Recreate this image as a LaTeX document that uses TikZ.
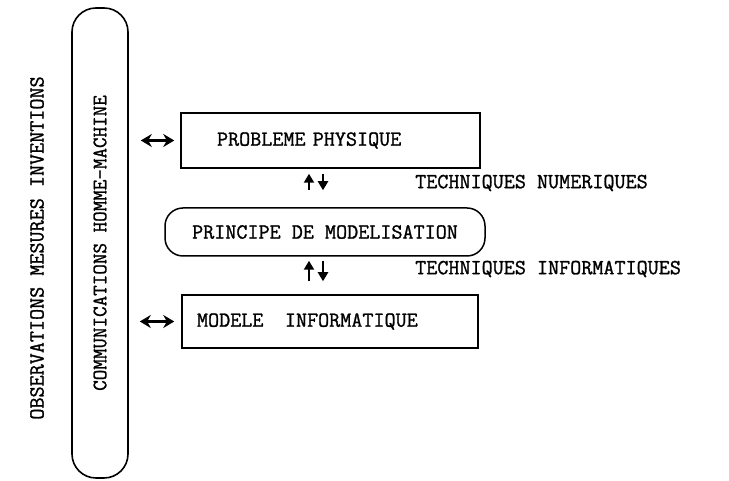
\documentclass[tikz,border=0pt]{standalone}
\usepackage{fontspec}
\newfontfamily\typfont[FakeBold=1.2]{Latin Modern Mono}
\usepackage{tikz}
\usetikzlibrary{arrows.meta, positioning, calc}
\tikzset{
  txt/.style={font=\typfont\fontsize{21.5}{24}\selectfont, inner sep=0pt},
  box/.style={rectangle, draw=black, line width=1.5pt, minimum height=55pt,
              text width=227pt, inner xsep=36pt, align=left,
              font=\typfont\fontsize{21.5}{24}\selectfont},
  pill/.style={rectangle, draw=black, line width=1.5pt, rounded corners=18pt,
               minimum width=320pt, minimum height=48pt, align=center,
               font=\typfont\fontsize{21.5}{24}\selectfont},
  tall/.style={rectangle, draw=black, line width=1.6pt, rounded corners=24pt,
               minimum width=470pt, minimum height=56pt, rotate=90,
               font=\typfont\fontsize{20.5}{24}\selectfont},
  uarr/.style={-{Triangle[length=9pt, width=10pt]}, draw=black, line width=2.2pt},
  darr/.style={{Stealth[length=11pt, width=13pt]}-{Stealth[length=11pt, width=13pt]},
               draw=black, line width=2.2pt},
}
\begin{document}
\begin{tikzpicture}[x=1pt, y=1pt]
  \useasboundingbox (0,0) rectangle (729,481);

  \node[txt, rotate=90] (obs) at (37,233) {OBSERVATIONS MESURES INVENTIONS};
  \node[tall] (hm) at (100,238) {COMMUNICATIONS HOMME-MACHINE};

  \node[box] (pb) at (330.5,340.5) {PROBLEME\ PHYSIQUE};
  \node[pill] (pm) at (325,249) {PRINCIPE DE MODELISATION};
  \node[box, minimum height=53pt, inner xsep=15pt, text width=266pt] (mi)
    at (330,159.5) {MODELE\ \ \ INFORMATIQUE};

  \draw[darr, shorten <=12pt, shorten >=6pt] (hm.south |- pb.west) -- (pb.west);
  \draw[darr, shorten <=11pt, shorten >=7pt] (hm.south |- mi.west) -- (mi.west);

  \draw[uarr, shorten <=17pt, shorten >=5pt] ([xshift=-16pt]pm.north)
    -- ([xshift=-16pt]pm.north |- pb.south);
  \draw[uarr, shorten <=5pt, shorten >=17pt] ([xshift=-2pt]pm.north |- pb.south)
    -- ([xshift=-2pt]pm.north);
  \draw[uarr, shorten <=13pt, shorten >=4pt] ([xshift=-16pt]mi.north -| pm.north)
    -- ([xshift=-16pt]pm.south);
  \draw[uarr, shorten <=4pt, shorten >=13pt] ([xshift=-2pt]pm.south)
    -- ([xshift=-2pt]mi.north -| pm.north);

  \node[txt, anchor=west] (tn) at (415,298) {TECHNIQUES NUMERIQUES};
  \node[txt, anchor=west] (ti) at (415,212) {TECHNIQUES\ INFORMATIQUES};
\end{tikzpicture}
\end{document}
